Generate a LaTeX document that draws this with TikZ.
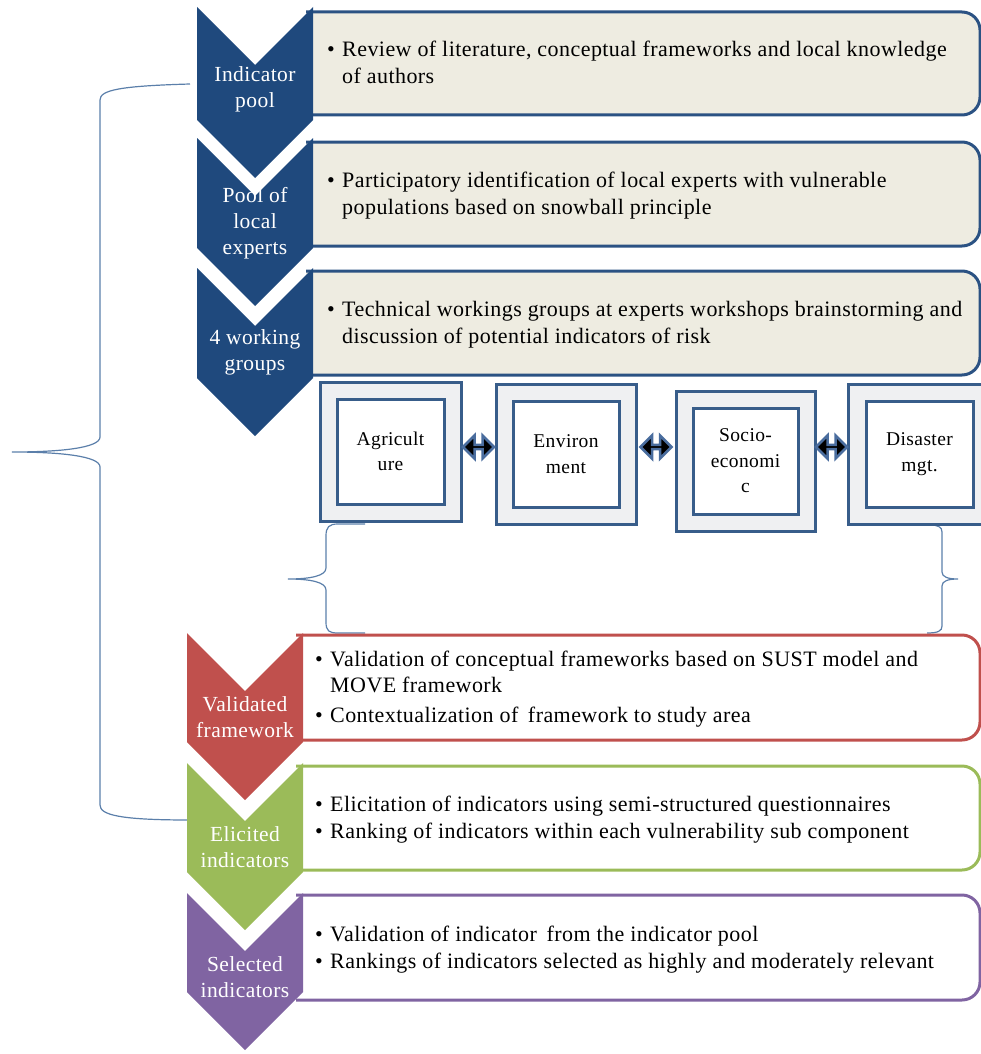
\documentclass[tikz,border=0pt]{standalone}
\usepackage{fontspec}
\setmainfont{Liberation Serif}[LetterSpace=2]
\usetikzlibrary{shapes.arrows,calc}
\definecolor{chevblue}{HTML}{1F497D}
\definecolor{boxblue}{HTML}{2B5283}
\definecolor{grpblue}{HTML}{385D8A}
\definecolor{beige}{HTML}{EEECE1}
\definecolor{grpfill}{HTML}{EFF0F2}
\definecolor{arrblue}{HTML}{4A6D9E}
\definecolor{bracecol}{HTML}{5B7FAA}
\definecolor{cred}{HTML}{C0504D}
\definecolor{cgreen}{HTML}{9BBB59}
\definecolor{cpurple}{HTML}{8064A2}
\newcommand\mychev[5]{%
  \fill[#1] (#2,#4) -- ({(#2+#3)/2},{#4+(#3-#2)/2}) -- (#3,#4) -- (#3,#5)
    -- ({(#2+#3)/2},{#5+(#3-#2)/2}) -- (#2,#5) -- cycle;}
\newcommand\mybox[5]{% color, fill, x0, ytop, ybot
  \filldraw[draw=#1,fill=#2,line width=3pt,rounded corners=18pt]
    (#3,#4) -- (980,#4) -- (980,#5) -- (#3,#5);}
\tikzset{
  txt/.style={inner sep=0pt,anchor=base west,font=\fontsize{22}{27}\selectfont},
  clabel/.style={text=white,align=center,inner sep=0pt,font=\fontsize{21.5}{26}\selectfont},
  gout/.style={draw=grpblue,fill=grpfill,line width=3pt,inner sep=0pt},
  gin/.style={draw=grpblue,fill=white,line width=3pt,inner sep=0pt,align=center,
    font=\fontsize{19.5}{25.5}\selectfont},
  dbl/.style={double arrow,draw=arrblue,fill=black,line width=2.5pt,inner sep=0pt,
    minimum height=31pt,minimum width=23pt,double arrow head extend=5.5pt},
  brace/.style={draw=bracecol,line width=1.2pt}
}
\begin{document}
\begin{tikzpicture}[x=1pt,y=-1pt]
\useasboundingbox (0,0) rectangle (981,1054);
% braces
\draw[brace] (190,84) .. controls (120,86) and (100,90) .. (100,100) -- (100,437)
  .. controls (100,448) and (60,452) .. (12,452)
  .. controls (60,452) and (100,456) .. (100,467) -- (100,805)
  .. controls (100,815) and (120,820) .. (190,820);
\draw[brace] (365,524) -- (338,524) .. controls (329,524) and (326,527) .. (326,536) -- (326,568)
  .. controls (326,576) and (310,579) .. (288,579)
  .. controls (310,579) and (326,582) .. (326,590) -- (326,622)
  .. controls (326,631) and (329,633) .. (338,633) -- (365,633);
\draw[brace] (930,525) .. controls (938,525) and (942,527) .. (942,532) -- (942,572)
  .. controls (942,577) and (948,579) .. (958,579)
  .. controls (948,579) and (942,581) .. (942,586) -- (942,626)
  .. controls (942,631) and (938,633) .. (927,633);
% upper content boxes
\mybox{boxblue}{beige}{306}{12}{115}
\mybox{boxblue}{beige}{306}{142}{246}
\mybox{boxblue}{beige}{306}{271}{375}
% lower content boxes
\mybox{cred}{white}{296}{635}{740}
\mybox{cgreen}{white}{296}{766}{870}
\mybox{cpurple}{white}{296}{895}{1000}
% chevrons
\mychev{chevblue}{197}{313}{7}{120}
\mychev{chevblue}{197}{313}{138}{248}
\mychev{chevblue}{197}{313}{268}{378}
\mychev{cred}{187}{303}{633}{742}
\mychev{cgreen}{187}{303}{763}{872}
\mychev{cpurple}{187}{303}{893}{992}
% chevron labels
\node[clabel] (c1) at (255,89) {Indicator\\pool};
\node[clabel] (c2) at (255,223) {Pool of\\local\\experts};
\node[clabel] (c3) at (255,352) {4 working\\groups};
\node[clabel] (c4) at (245,717) {Validated\\framework};
\node[clabel] (c5) at (245,847) {Elicited\\indicators};
\node[clabel] (c6) at (245,977) {Selected\\indicators};
% box texts
\node[txt] (b1) at (327,57) {\textbullet};
\node[txt] (t1a) at (342,57) {Review of literature, conceptual frameworks and local knowledge};
\node[txt] (t1b) at (342,84) {of authors};
\node[txt] (b2) at (327,187.5) {\textbullet};
\node[txt] (t2a) at (342,187.5) {Participatory identification of local experts with vulnerable};
\node[txt] (t2b) at (342,214.5) {populations based on snowball principle};
\node[txt] (b3) at (327,316.5) {\textbullet};
\node[txt] (t3a) at (342,316.5) {Technical workings groups at experts workshops brainstorming and};
\node[txt] (t3b) at (342,343.5) {discussion of potential indicators of risk};
\node[txt] (b4) at (315,666) {\textbullet};
\node[txt] (t4a) at (330,666) {Validation of conceptual frameworks based on SUST model and};
\node[txt] (t4b) at (330,692) {MOVE framework};
\node[txt] (b5) at (315,722) {\textbullet};
\node[txt] (t5a) at (330,722) {Contextualization of\, framework to study area};
\node[txt] (b6) at (315,811.5) {\textbullet};
\node[txt] (t6a) at (330,811.5) {Elicitation of indicators using semi-structured questionnaires};
\node[txt] (b7) at (315,838.5) {\textbullet};
\node[txt] (t7a) at (330,838.5) {Ranking of indicators within each vulnerability sub component};
\node[txt] (b8) at (315,941) {\textbullet};
\node[txt] (t8a) at (330,941) {Validation of indicator\, from the indicator pool};
\node[txt] (b9) at (315,968) {\textbullet};
\node[txt] (t9a) at (330,968) {Rankings of indicators selected as highly and moderately relevant};
% working groups
\node[gout,minimum width=141pt,minimum height=139pt] (A) at (390.5,451.5) {};
\node[gin,minimum width=107pt,minimum height=105pt] (Ai) at (A.center) {Agricult\\ure};
\node[gout,minimum width=140pt,minimum height=140pt] (E) at (566,454) {};
\node[gin,minimum width=106pt,minimum height=106pt] (Ei) at (E.center) {Environ\\ment};
\node[gout,minimum width=139pt,minimum height=140pt] (S) at (745.5,461) {};
\node[gin,minimum width=105pt,minimum height=106pt] (Si) at (S.center) {Socio-\\economi\\c};
\node[gout,minimum width=142pt,minimum height=140pt] (D) at (919,454) {};
\node[gin,minimum width=107pt,minimum height=106pt] (Di) at (919.5,454) {Disaster\\mgt.};
% double arrows between groups
\node[dbl] (ae) at (478.5,447) {};
\node[dbl] (es) at (656,447) {};
\node[dbl] (sd) at (831.5,447) {};
\end{tikzpicture}
\end{document}
